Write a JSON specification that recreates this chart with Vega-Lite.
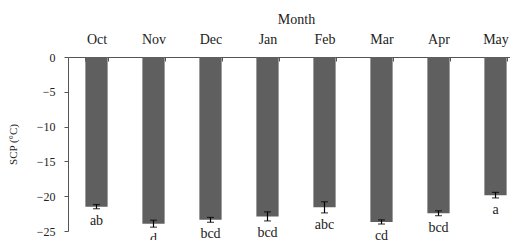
{
  "$schema": "https://vega.github.io/schema/vega-lite/v6.json",
  "autosize": "none",
  "width": 442,
  "height": 174,
  "padding": {"left": 68, "top": 57, "right": 0, "bottom": 9},
  "background": "white",
  "config": {
    "view": {"stroke": null},
    "font": "Liberation Serif",
    "axis": {"grid": false, "labelFont": "Liberation Serif", "titleFont": "Liberation Serif", "labelColor": "#222", "titleColor": "#222", "domainColor": "#555", "tickColor": "#555", "titleFontWeight": "normal", "zindex": 1},
    "axisY": {"title": "SCP (°C)", "labelOverlap": false, "labelFlush": false, "labelFontSize": 12, "titleFontSize": 11, "tickSize": 4, "labelPadding": 9, "titlePadding": 18}
  },
  "data": {
    "values": [
      {"month": "Oct", "scp": -21.5, "lo": -21.8, "hi": -21.2, "group": "ab"},
      {"month": "Nov", "scp": -23.95, "lo": -24.45, "hi": -23.45, "group": "d"},
      {"month": "Dec", "scp": -23.4, "lo": -23.75, "hi": -23.05, "group": "bcd"},
      {"month": "Jan", "scp": -22.9, "lo": -23.55, "hi": -22.25, "group": "bcd"},
      {"month": "Feb", "scp": -21.6, "lo": -22.4, "hi": -20.8, "group": "abc"},
      {"month": "Mar", "scp": -23.7, "lo": -24.0, "hi": -23.4, "group": "cd"},
      {"month": "Apr", "scp": -22.45, "lo": -22.8, "hi": -22.1, "group": "bcd"},
      {"month": "May", "scp": -19.85, "lo": -20.25, "hi": -19.45, "group": "a"}
    ]
  },
  "encoding": {
    "x": {
      "field": "month", "type": "nominal", "sort": null,
      "scale": {"range": [0, 456], "paddingInner": 0.61, "paddingOuter": 0.305},
      "axis": {"orient": "top", "title": "Month", "labelAngle": 0, "labelFontSize": 14, "titleFontSize": 14, "tickBand": "extent", "tickSize": -4, "labelPadding": 15, "titlePadding": 6, "domain": true, "domainWidth": 1}
    }
  },
  "layer": [
    {
      "mark": {"type": "bar", "color": "#5f5f5f"},
      "encoding": {
        "y": {"field": "scp", "type": "quantitative", "scale": {"domain": [-25, 0], "nice": false}, "axis": {"title": "SCP (°C)", "values": [0, -5, -10, -15, -20, -25]}}
      }
    },
    {
      "mark": {"type": "rule", "color": "black", "strokeWidth": 1.2},
      "encoding": {"y": {"field": "lo", "type": "quantitative", "axis": {"title": "SCP (°C)", "values": [0, -5, -10, -15, -20, -25]}}, "y2": {"field": "hi"}}
    },
    {
      "mark": {"type": "tick", "color": "black", "size": 7, "thickness": 1.2},
      "encoding": {"y": {"field": "lo", "type": "quantitative", "axis": {"title": "SCP (°C)", "values": [0, -5, -10, -15, -20, -25]}}}
    },
    {
      "mark": {"type": "tick", "color": "black", "size": 7, "thickness": 1.2},
      "encoding": {"y": {"field": "hi", "type": "quantitative", "axis": {"title": "SCP (°C)", "values": [0, -5, -10, -15, -20, -25]}}}
    },
    {
      "mark": {"type": "text", "baseline": "middle", "dy": 12, "fontSize": 14, "color": "#222", "font": "Liberation Serif"},
      "encoding": {"y": {"field": "lo", "type": "quantitative", "axis": {"title": "SCP (°C)", "values": [0, -5, -10, -15, -20, -25]}}, "text": {"field": "group"}}
    }
  ]
}
